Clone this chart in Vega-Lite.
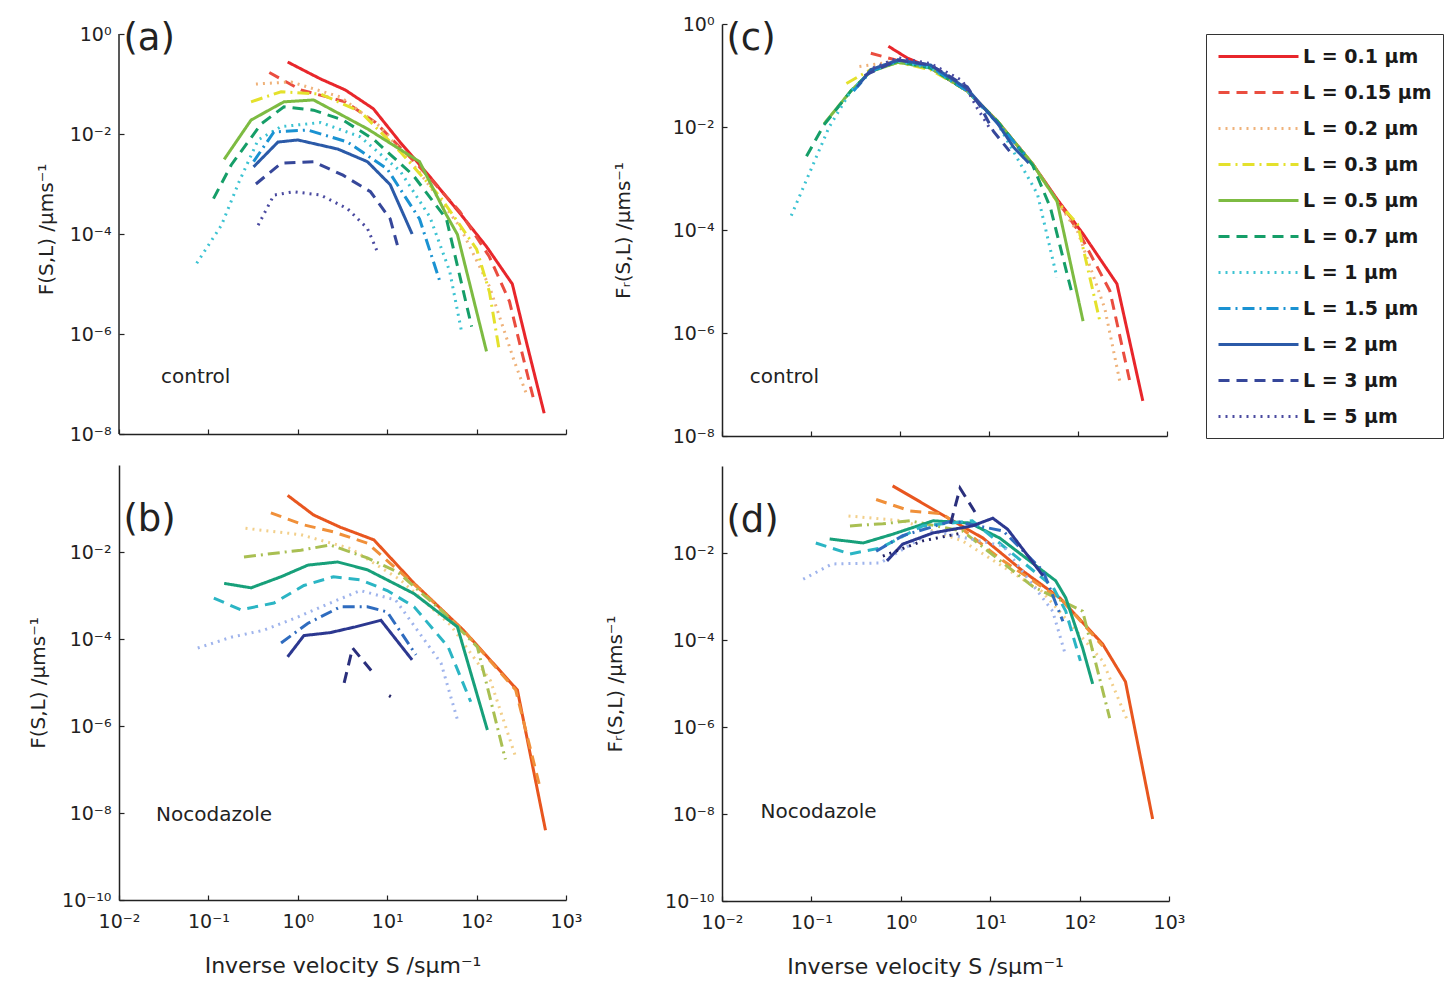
{
  "$schema": "https://vega.github.io/schema/vega-lite/v6.json",
  "background": "white",
  "padding": {"left": 28, "top": 15, "right": 0, "bottom": 0},
  "datasets": {
    "pts": [
      {"panel":"a","L":"L = 0.1 µm","S":0.77,"F":0.275},{"panel":"a","L":"L = 0.1 µm","S":1.8,"F":0.126},{"panel":"a","L":"L = 0.1 µm","S":3.4,"F":0.076},{"panel":"a","L":"L = 0.1 µm","S":7.0,"F":0.032},{"panel":"a","L":"L = 0.1 µm","S":13.9,"F":6.9e-3},{"panel":"a","L":"L = 0.1 µm","S":30,"F":1.4e-3},{"panel":"a","L":"L = 0.1 µm","S":65,"F":2.6e-4},{"panel":"a","L":"L = 0.1 µm","S":129,"F":5.6e-5},{"panel":"a","L":"L = 0.1 µm","S":251,"F":1e-5},{"panel":"a","L":"L = 0.1 µm","S":360,"F":7e-7},{"panel":"a","L":"L = 0.1 µm","S":570,"F":2.6e-8},
      {"panel":"a","L":"L = 0.15 µm","S":0.48,"F":0.17},{"panel":"a","L":"L = 0.15 µm","S":1.08,"F":0.076},{"panel":"a","L":"L = 0.15 µm","S":3.4,"F":0.044},{"panel":"a","L":"L = 0.15 µm","S":7.4,"F":0.017},{"panel":"a","L":"L = 0.15 µm","S":23,"F":2.2e-3},{"panel":"a","L":"L = 0.15 µm","S":65,"F":2.8e-4},{"panel":"a","L":"L = 0.15 µm","S":139,"F":3.5e-5},{"panel":"a","L":"L = 0.15 µm","S":233,"F":4.5e-6},{"panel":"a","L":"L = 0.15 µm","S":300,"F":7e-7},{"panel":"a","L":"L = 0.15 µm","S":440,"F":4.5e-8},
      {"panel":"a","L":"L = 0.2 µm","S":0.34,"F":0.1},{"panel":"a","L":"L = 0.2 µm","S":0.84,"F":0.11},{"panel":"a","L":"L = 0.2 µm","S":3,"F":0.055},{"panel":"a","L":"L = 0.2 µm","S":8.4,"F":0.014},{"panel":"a","L":"L = 0.2 µm","S":23,"F":1.7e-3},{"panel":"a","L":"L = 0.2 µm","S":65,"F":1.4e-4},{"panel":"a","L":"L = 0.2 µm","S":139,"F":9e-6},{"panel":"a","L":"L = 0.2 µm","S":265,"F":2.8e-7},{"panel":"a","L":"L = 0.2 µm","S":370,"F":5.6e-8},
      {"panel":"a","L":"L = 0.3 µm","S":0.30,"F":0.044},{"panel":"a","L":"L = 0.3 µm","S":0.65,"F":0.07},{"panel":"a","L":"L = 0.3 µm","S":1.8,"F":0.063},{"panel":"a","L":"L = 0.3 µm","S":5,"F":0.028},{"panel":"a","L":"L = 0.3 µm","S":14,"F":4.4e-3},{"panel":"a","L":"L = 0.3 µm","S":39,"F":5.6e-4},{"panel":"a","L":"L = 0.3 µm","S":100,"F":5e-5},{"panel":"a","L":"L = 0.3 µm","S":139,"F":7e-6},{"panel":"a","L":"L = 0.3 µm","S":180,"F":4.5e-7},
      {"panel":"a","L":"L = 0.5 µm","S":0.15,"F":3.1e-3},{"panel":"a","L":"L = 0.5 µm","S":0.30,"F":0.019},{"panel":"a","L":"L = 0.5 µm","S":0.70,"F":0.044},{"panel":"a","L":"L = 0.5 µm","S":1.5,"F":0.048},{"panel":"a","L":"L = 0.5 µm","S":6.0,"F":0.0127},{"panel":"a","L":"L = 0.5 µm","S":23,"F":2.8e-3},{"panel":"a","L":"L = 0.5 µm","S":46,"F":2.4e-4},{"panel":"a","L":"L = 0.5 µm","S":61,"F":9.8e-5},{"panel":"a","L":"L = 0.5 µm","S":129,"F":4.5e-7},
      {"panel":"a","L":"L = 0.7 µm","S":0.114,"F":5.1e-4},{"panel":"a","L":"L = 0.7 µm","S":0.18,"F":2.4e-3},{"panel":"a","L":"L = 0.7 µm","S":0.39,"F":0.016},{"panel":"a","L":"L = 0.7 µm","S":0.70,"F":0.035},{"panel":"a","L":"L = 0.7 µm","S":1.5,"F":0.030},{"panel":"a","L":"L = 0.7 µm","S":3.2,"F":0.019},{"panel":"a","L":"L = 0.7 µm","S":7.0,"F":7.9e-3},{"panel":"a","L":"L = 0.7 µm","S":19.5,"F":1.5e-3},{"panel":"a","L":"L = 0.7 µm","S":46,"F":2e-4},{"panel":"a","L":"L = 0.7 µm","S":88,"F":1.4e-6},
      {"panel":"a","L":"L = 1 µm","S":0.074,"F":2.6e-5},{"panel":"a","L":"L = 1 µm","S":0.14,"F":1.5e-4},{"panel":"a","L":"L = 1 µm","S":0.22,"F":1.1e-3},{"panel":"a","L":"L = 1 µm","S":0.36,"F":7.6e-3},{"panel":"a","L":"L = 1 µm","S":0.65,"F":0.014},{"panel":"a","L":"L = 1 µm","S":1.8,"F":0.017},{"panel":"a","L":"L = 1 µm","S":5,"F":8.8e-3},{"panel":"a","L":"L = 1 µm","S":14,"F":1.8e-3},{"panel":"a","L":"L = 1 µm","S":30,"F":2.2e-4},{"panel":"a","L":"L = 1 µm","S":50,"F":1.8e-5},{"panel":"a","L":"L = 1 µm","S":68,"F":1.1e-6},
      {"panel":"a","L":"L = 1.5 µm","S":0.32,"F":2.8e-3},{"panel":"a","L":"L = 1.5 µm","S":0.54,"F":0.011},{"panel":"a","L":"L = 1.5 µm","S":1.3,"F":0.012},{"panel":"a","L":"L = 1.5 µm","S":3.6,"F":6.9e-3},{"panel":"a","L":"L = 1.5 µm","S":10,"F":2e-3},{"panel":"a","L":"L = 1.5 µm","S":23,"F":2e-4},{"panel":"a","L":"L = 1.5 µm","S":39,"F":1.1e-5},
      {"panel":"a","L":"L = 2 µm","S":0.32,"F":2.2e-3},{"panel":"a","L":"L = 2 µm","S":0.6,"F":6.9e-3},{"panel":"a","L":"L = 2 µm","S":1.0,"F":7.6e-3},{"panel":"a","L":"L = 2 µm","S":2.8,"F":5e-3},{"panel":"a","L":"L = 2 µm","S":6,"F":2.8e-3},{"panel":"a","L":"L = 2 µm","S":10.8,"F":9.7e-4},{"panel":"a","L":"L = 2 µm","S":19,"F":1e-4},
      {"panel":"a","L":"L = 3 µm","S":0.34,"F":1e-3},{"panel":"a","L":"L = 3 µm","S":0.65,"F":2.6e-3},{"panel":"a","L":"L = 3 µm","S":1.5,"F":2.8e-3},{"panel":"a","L":"L = 3 µm","S":3.2,"F":1.5e-3},{"panel":"a","L":"L = 3 µm","S":6.5,"F":7e-4},{"panel":"a","L":"L = 3 µm","S":10.8,"F":2e-4},{"panel":"a","L":"L = 3 µm","S":13,"F":6e-5},
      {"panel":"a","L":"L = 5 µm","S":0.36,"F":1.5e-4},{"panel":"a","L":"L = 5 µm","S":0.54,"F":6e-4},{"panel":"a","L":"L = 5 µm","S":0.9,"F":7e-4},{"panel":"a","L":"L = 5 µm","S":1.8,"F":6e-4},{"panel":"a","L":"L = 5 µm","S":3.6,"F":3.2e-4},{"panel":"a","L":"L = 5 µm","S":6,"F":1.3e-4},{"panel":"a","L":"L = 5 µm","S":8,"F":3.9e-5},

      {"panel":"b","L":"L = 0.1 µm","S":0.77,"F":0.2},{"panel":"b","L":"L = 0.1 µm","S":1.5,"F":0.071},{"panel":"b","L":"L = 0.1 µm","S":3.0,"F":0.037},{"panel":"b","L":"L = 0.1 µm","S":7.1,"F":0.019},{"panel":"b","L":"L = 0.1 µm","S":20,"F":1.9e-3},{"panel":"b","L":"L = 0.1 µm","S":71,"F":1.6e-4},{"panel":"b","L":"L = 0.1 µm","S":286,"F":6.7e-6},{"panel":"b","L":"L = 0.1 µm","S":590,"F":4e-9},
      {"panel":"b","L":"L = 0.15 µm","S":0.5,"F":0.079},{"panel":"b","L":"L = 0.15 µm","S":1.17,"F":0.042},{"panel":"b","L":"L = 0.15 µm","S":2.5,"F":0.029},{"panel":"b","L":"L = 0.15 µm","S":6.0,"F":0.016},{"panel":"b","L":"L = 0.15 µm","S":24,"F":1.3e-3},{"panel":"b","L":"L = 0.15 µm","S":75,"F":1.4e-4},{"panel":"b","L":"L = 0.15 µm","S":274,"F":6.7e-6},{"panel":"b","L":"L = 0.15 µm","S":520,"F":3.4e-8},
      {"panel":"b","L":"L = 0.2 µm","S":0.26,"F":0.035},{"panel":"b","L":"L = 0.2 µm","S":1.08,"F":0.025},{"panel":"b","L":"L = 0.2 µm","S":3.9,"F":0.012},{"panel":"b","L":"L = 0.2 µm","S":14,"F":2.3e-3},{"panel":"b","L":"L = 0.2 µm","S":51,"F":2.1e-4},{"panel":"b","L":"L = 0.2 µm","S":143,"F":1.1e-5},{"panel":"b","L":"L = 0.2 µm","S":270,"F":2.1e-7},
      {"panel":"b","L":"L = 0.3 µm","S":0.25,"F":7.7e-3},{"panel":"b","L":"L = 0.3 µm","S":1.08,"F":0.011},{"panel":"b","L":"L = 0.3 µm","S":2.3,"F":0.0145},{"panel":"b","L":"L = 0.3 µm","S":6,"F":7.3e-3},{"panel":"b","L":"L = 0.3 µm","S":13,"F":3.5e-3},{"panel":"b","L":"L = 0.3 µm","S":40,"F":4.6e-4},{"panel":"b","L":"L = 0.3 µm","S":102,"F":6.6e-5},{"panel":"b","L":"L = 0.3 µm","S":210,"F":1.7e-7},
      {"panel":"b","L":"L = 0.5 µm","S":0.15,"F":1.9e-3},{"panel":"b","L":"L = 0.5 µm","S":0.30,"F":1.5e-3},{"panel":"b","L":"L = 0.5 µm","S":0.65,"F":2.7e-3},{"panel":"b","L":"L = 0.5 µm","S":1.3,"F":5e-3},{"panel":"b","L":"L = 0.5 µm","S":2.8,"F":5.9e-3},{"panel":"b","L":"L = 0.5 µm","S":6,"F":3.9e-3},{"panel":"b","L":"L = 0.5 µm","S":20,"F":1.1e-3},{"panel":"b","L":"L = 0.5 µm","S":61,"F":1.9e-4},{"panel":"b","L":"L = 0.5 µm","S":132,"F":8.1e-7},
      {"panel":"b","L":"L = 0.7 µm","S":0.115,"F":8.7e-4},{"panel":"b","L":"L = 0.7 µm","S":0.23,"F":4.7e-4},{"panel":"b","L":"L = 0.7 µm","S":0.54,"F":6.7e-4},{"panel":"b","L":"L = 0.7 µm","S":1.17,"F":1.7e-3},{"panel":"b","L":"L = 0.7 µm","S":2.5,"F":2.7e-3},{"panel":"b","L":"L = 0.7 µm","S":5,"F":2.3e-3},{"panel":"b","L":"L = 0.7 µm","S":10,"F":1.3e-3},{"panel":"b","L":"L = 0.7 µm","S":20,"F":5.5e-4},{"panel":"b","L":"L = 0.7 µm","S":48,"F":6.6e-5},{"panel":"b","L":"L = 0.7 µm","S":86,"F":3.6e-6},
      {"panel":"b","L":"L = 1 µm","S":0.076,"F":6.2e-5},{"panel":"b","L":"L = 1 µm","S":0.18,"F":1.1e-4},{"panel":"b","L":"L = 1 µm","S":0.42,"F":1.6e-4},{"panel":"b","L":"L = 1 µm","S":1,"F":3.2e-4},{"panel":"b","L":"L = 1 µm","S":2.3,"F":6.7e-4},{"panel":"b","L":"L = 1 µm","S":5,"F":1.3e-3},{"panel":"b","L":"L = 1 µm","S":12.4,"F":7.9e-4},{"panel":"b","L":"L = 1 µm","S":40,"F":2.8e-5},{"panel":"b","L":"L = 1 µm","S":61,"F":1.4e-6},
      {"panel":"b","L":"L = 1.5 µm","S":0.65,"F":8.1e-5},{"panel":"b","L":"L = 1.5 µm","S":1.3,"F":2.3e-4},{"panel":"b","L":"L = 1.5 µm","S":3.0,"F":5.5e-4},{"panel":"b","L":"L = 1.5 µm","S":6,"F":5.5e-4},{"panel":"b","L":"L = 1.5 µm","S":10,"F":4.2e-4},{"panel":"b","L":"L = 1.5 µm","S":21,"F":4.3e-5},
      {"panel":"b","L":"L = 2 µm","S":0.77,"F":3.9e-5},{"panel":"b","L":"L = 2 µm","S":1.17,"F":1.2e-4},{"panel":"b","L":"L = 2 µm","S":2.3,"F":1.4e-4},{"panel":"b","L":"L = 2 µm","S":4.4,"F":1.9e-4},{"panel":"b","L":"L = 2 µm","S":8.5,"F":2.7e-4},{"panel":"b","L":"L = 2 µm","S":19,"F":3.3e-5},
      {"panel":"b","L":"L = 3 µm","S":3.3,"F":9.8e-6},{"panel":"b","L":"L = 3 µm","S":4.1,"F":6.2e-5},{"panel":"b","L":"L = 3 µm","S":6.9,"F":1.7e-5},
      {"panel":"b","L":"L = 5 µm","S":10.5,"F":5e-6},{"panel":"b","L":"L = 5 µm","S":11.5,"F":4.5e-6},

      {"panel":"c","L":"L = 0.1 µm","S":0.74,"F":0.37},{"panel":"c","L":"L = 0.1 µm","S":1.2,"F":0.22},{"panel":"c","L":"L = 0.1 µm","S":2.2,"F":0.14},{"panel":"c","L":"L = 0.1 µm","S":5.7,"F":0.05},{"panel":"c","L":"L = 0.1 µm","S":12.4,"F":0.013},{"panel":"c","L":"L = 0.1 µm","S":31,"F":1.9e-3},{"panel":"c","L":"L = 0.1 µm","S":58,"F":4e-4},{"panel":"c","L":"L = 0.1 µm","S":114,"F":8.4e-5},{"panel":"c","L":"L = 0.1 µm","S":274,"F":9e-6},{"panel":"c","L":"L = 0.1 µm","S":535,"F":4.8e-8},
      {"panel":"c","L":"L = 0.15 µm","S":0.47,"F":0.27},{"panel":"c","L":"L = 0.15 µm","S":0.9,"F":0.2},{"panel":"c","L":"L = 0.15 µm","S":2.2,"F":0.14},{"panel":"c","L":"L = 0.15 µm","S":5.7,"F":0.05},{"panel":"c","L":"L = 0.15 µm","S":12.4,"F":0.013},{"panel":"c","L":"L = 0.15 µm","S":31,"F":1.9e-3},{"panel":"c","L":"L = 0.15 µm","S":58,"F":3.8e-4},{"panel":"c","L":"L = 0.15 µm","S":99,"F":1.0e-4},{"panel":"c","L":"L = 0.15 µm","S":228,"F":6.6e-6},{"panel":"c","L":"L = 0.15 µm","S":380,"F":1.2e-7},
      {"panel":"c","L":"L = 0.2 µm","S":0.35,"F":0.15},{"panel":"c","L":"L = 0.2 µm","S":0.95,"F":0.19},{"panel":"c","L":"L = 0.2 µm","S":2.2,"F":0.14},{"panel":"c","L":"L = 0.2 µm","S":5.7,"F":0.05},{"panel":"c","L":"L = 0.2 µm","S":12.4,"F":0.013},{"panel":"c","L":"L = 0.2 µm","S":31,"F":1.9e-3},{"panel":"c","L":"L = 0.2 µm","S":58,"F":3.6e-4},{"panel":"c","L":"L = 0.2 µm","S":100,"F":9e-5},{"panel":"c","L":"L = 0.2 µm","S":200,"F":3e-6},{"panel":"c","L":"L = 0.2 µm","S":300,"F":1e-7},
      {"panel":"c","L":"L = 0.3 µm","S":0.25,"F":0.07},{"panel":"c","L":"L = 0.3 µm","S":0.47,"F":0.13},{"panel":"c","L":"L = 0.3 µm","S":0.95,"F":0.18},{"panel":"c","L":"L = 0.3 µm","S":2.2,"F":0.13},{"panel":"c","L":"L = 0.3 µm","S":5.7,"F":0.05},{"panel":"c","L":"L = 0.3 µm","S":12.4,"F":0.013},{"panel":"c","L":"L = 0.3 µm","S":31,"F":1.9e-3},{"panel":"c","L":"L = 0.3 µm","S":58,"F":3.6e-4},{"panel":"c","L":"L = 0.3 µm","S":99,"F":1.3e-4},{"panel":"c","L":"L = 0.3 µm","S":176,"F":1.7e-6},
      {"panel":"c","L":"L = 0.5 µm","S":0.14,"F":0.0115},{"panel":"c","L":"L = 0.5 µm","S":0.28,"F":0.05},{"panel":"c","L":"L = 0.5 µm","S":0.47,"F":0.12},{"panel":"c","L":"L = 0.5 µm","S":0.95,"F":0.18},{"panel":"c","L":"L = 0.5 µm","S":2.2,"F":0.14},{"panel":"c","L":"L = 0.5 µm","S":5.7,"F":0.05},{"panel":"c","L":"L = 0.5 µm","S":12.4,"F":0.013},{"panel":"c","L":"L = 0.5 µm","S":31,"F":1.9e-3},{"panel":"c","L":"L = 0.5 µm","S":58,"F":3.7e-4},{"panel":"c","L":"L = 0.5 µm","S":114,"F":1.7e-6},
      {"panel":"c","L":"L = 0.7 µm","S":0.089,"F":2.7e-3},{"panel":"c","L":"L = 0.7 µm","S":0.14,"F":0.011},{"panel":"c","L":"L = 0.7 µm","S":0.28,"F":0.05},{"panel":"c","L":"L = 0.7 µm","S":0.47,"F":0.12},{"panel":"c","L":"L = 0.7 µm","S":0.95,"F":0.19},{"panel":"c","L":"L = 0.7 µm","S":2.2,"F":0.14},{"panel":"c","L":"L = 0.7 µm","S":5.7,"F":0.05},{"panel":"c","L":"L = 0.7 µm","S":12.4,"F":0.013},{"panel":"c","L":"L = 0.7 µm","S":31,"F":1.8e-3},{"panel":"c","L":"L = 0.7 µm","S":49,"F":2.7e-4},{"panel":"c","L":"L = 0.7 µm","S":86,"F":5.7e-6},
      {"panel":"c","L":"L = 1 µm","S":0.06,"F":1.9e-4},{"panel":"c","L":"L = 1 µm","S":0.1,"F":1.5e-3},{"panel":"c","L":"L = 1 µm","S":0.16,"F":0.01},{"panel":"c","L":"L = 1 µm","S":0.28,"F":0.05},{"panel":"c","L":"L = 1 µm","S":0.47,"F":0.12},{"panel":"c","L":"L = 1 µm","S":0.95,"F":0.19},{"panel":"c","L":"L = 1 µm","S":2.2,"F":0.14},{"panel":"c","L":"L = 1 µm","S":5.7,"F":0.05},{"panel":"c","L":"L = 1 µm","S":12.4,"F":0.012},{"panel":"c","L":"L = 1 µm","S":35,"F":5e-4},{"panel":"c","L":"L = 1 µm","S":58,"F":1.2e-5},
      {"panel":"c","L":"L = 1.5 µm","S":0.3,"F":0.05},{"panel":"c","L":"L = 1.5 µm","S":0.47,"F":0.12},{"panel":"c","L":"L = 1.5 µm","S":0.95,"F":0.2},{"panel":"c","L":"L = 1.5 µm","S":2.2,"F":0.15},{"panel":"c","L":"L = 1.5 µm","S":5.7,"F":0.05},{"panel":"c","L":"L = 1.5 µm","S":12.4,"F":0.012},{"panel":"c","L":"L = 1.5 µm","S":25,"F":3e-3},
      {"panel":"c","L":"L = 2 µm","S":0.33,"F":0.06},{"panel":"c","L":"L = 2 µm","S":0.47,"F":0.13},{"panel":"c","L":"L = 2 µm","S":0.95,"F":0.2},{"panel":"c","L":"L = 2 µm","S":2.2,"F":0.16},{"panel":"c","L":"L = 2 µm","S":5.7,"F":0.055},{"panel":"c","L":"L = 2 µm","S":12.4,"F":0.012},{"panel":"c","L":"L = 2 µm","S":19,"F":4e-3},{"panel":"c","L":"L = 2 µm","S":28,"F":2e-3},
      {"panel":"c","L":"L = 3 µm","S":0.4,"F":0.1},{"panel":"c","L":"L = 3 µm","S":0.95,"F":0.2},{"panel":"c","L":"L = 3 µm","S":2.2,"F":0.16},{"panel":"c","L":"L = 3 µm","S":5.7,"F":0.06},{"panel":"c","L":"L = 3 µm","S":8,"F":0.025},{"panel":"c","L":"L = 3 µm","S":11.2,"F":8.3e-3},{"panel":"c","L":"L = 3 µm","S":17,"F":3.4e-3},
      {"panel":"c","L":"L = 5 µm","S":0.5,"F":0.14},{"panel":"c","L":"L = 5 µm","S":0.95,"F":0.22},{"panel":"c","L":"L = 5 µm","S":2.2,"F":0.17},{"panel":"c","L":"L = 5 µm","S":5,"F":0.08},{"panel":"c","L":"L = 5 µm","S":7.4,"F":0.023},{"panel":"c","L":"L = 5 µm","S":10,"F":0.01},

      {"panel":"d","L":"L = 0.1 µm","S":0.81,"F":0.35},{"panel":"d","L":"L = 0.1 µm","S":2.7,"F":0.083},{"panel":"d","L":"L = 0.1 µm","S":8.3,"F":0.022},{"panel":"d","L":"L = 0.1 µm","S":23,"F":3.9e-3},{"panel":"d","L":"L = 0.1 µm","S":60,"F":9.3e-4},{"panel":"d","L":"L = 0.1 µm","S":181,"F":8.1e-5},{"panel":"d","L":"L = 0.1 µm","S":326,"F":1.1e-5},{"panel":"d","L":"L = 0.1 µm","S":656,"F":7.7e-9},
      {"panel":"d","L":"L = 0.15 µm","S":0.53,"F":0.17},{"panel":"d","L":"L = 0.15 µm","S":1.26,"F":0.093},{"panel":"d","L":"L = 0.15 µm","S":2.95,"F":0.079},{"panel":"d","L":"L = 0.15 µm","S":14,"F":6.6e-3},{"panel":"d","L":"L = 0.15 µm","S":65,"F":7.9e-4},{"panel":"d","L":"L = 0.15 µm","S":181,"F":7.3e-5},
      {"panel":"d","L":"L = 0.2 µm","S":0.26,"F":0.071},{"panel":"d","L":"L = 0.2 µm","S":1.05,"F":0.055},{"panel":"d","L":"L = 0.2 µm","S":4.9,"F":0.019},{"panel":"d","L":"L = 0.2 µm","S":38,"F":1.3e-3},{"panel":"d","L":"L = 0.2 µm","S":181,"F":3.3e-5},{"panel":"d","L":"L = 0.2 µm","S":343,"F":1.4e-6},
      {"panel":"d","L":"L = 0.3 µm","S":0.27,"F":0.042},{"panel":"d","L":"L = 0.3 µm","S":0.63,"F":0.047},{"panel":"d","L":"L = 0.3 µm","S":1.26,"F":0.055},{"panel":"d","L":"L = 0.3 µm","S":4.9,"F":0.032},{"panel":"d","L":"L = 0.3 µm","S":30,"F":1.7e-3},{"panel":"d","L":"L = 0.3 µm","S":108,"F":4.6e-4},{"panel":"d","L":"L = 0.3 µm","S":217,"F":1.6e-6},
      {"panel":"d","L":"L = 0.5 µm","S":0.16,"F":0.021},{"panel":"d","L":"L = 0.5 µm","S":0.38,"F":0.017},{"panel":"d","L":"L = 0.5 µm","S":0.81,"F":0.027},{"panel":"d","L":"L = 0.5 µm","S":2.3,"F":0.055},{"panel":"d","L":"L = 0.5 µm","S":5.9,"F":0.049},{"panel":"d","L":"L = 0.5 µm","S":12.8,"F":0.022},{"panel":"d","L":"L = 0.5 µm","S":54,"F":2.3e-3},{"panel":"d","L":"L = 0.5 µm","S":70,"F":9.3e-4},{"panel":"d","L":"L = 0.5 µm","S":108,"F":6.6e-5},{"panel":"d","L":"L = 0.5 µm","S":140,"F":9.8e-6},
      {"panel":"d","L":"L = 0.7 µm","S":0.112,"F":0.017},{"panel":"d","L":"L = 0.7 µm","S":0.27,"F":9.5e-3},{"panel":"d","L":"L = 0.7 µm","S":0.59,"F":0.013},{"panel":"d","L":"L = 0.7 µm","S":1.76,"F":0.042},{"panel":"d","L":"L = 0.7 µm","S":6.3,"F":0.055},{"panel":"d","L":"L = 0.7 µm","S":50,"F":1.7e-3},{"panel":"d","L":"L = 0.7 µm","S":70,"F":4.6e-4},{"panel":"d","L":"L = 0.7 µm","S":102,"F":3.3e-5},
      {"panel":"d","L":"L = 1 µm","S":0.081,"F":2.5e-3},{"panel":"d","L":"L = 1 µm","S":0.17,"F":5.6e-3},{"panel":"d","L":"L = 1 µm","S":0.59,"F":5.9e-3},{"panel":"d","L":"L = 1 µm","S":2.3,"F":0.032},{"panel":"d","L":"L = 1 µm","S":14,"F":0.0145},{"panel":"d","L":"L = 1 µm","S":50,"F":4.6e-4},{"panel":"d","L":"L = 1 µm","S":70,"F":4.3e-5},
      {"panel":"d","L":"L = 1.5 µm","S":0.53,"F":0.011},{"panel":"d","L":"L = 1.5 µm","S":1.05,"F":0.025},{"panel":"d","L":"L = 1.5 µm","S":3.8,"F":0.055},{"panel":"d","L":"L = 1.5 µm","S":14,"F":0.032},{"panel":"d","L":"L = 1.5 µm","S":39,"F":3.9e-3},{"panel":"d","L":"L = 1.5 µm","S":65,"F":2.7e-4},
      {"panel":"d","L":"L = 2 µm","S":0.7,"F":6.6e-3},{"panel":"d","L":"L = 2 µm","S":1.05,"F":0.016},{"panel":"d","L":"L = 2 µm","S":2.3,"F":0.029},{"panel":"d","L":"L = 2 µm","S":6.3,"F":0.042},{"panel":"d","L":"L = 2 µm","S":10.7,"F":0.063},{"panel":"d","L":"L = 2 µm","S":15.7,"F":0.035},{"panel":"d","L":"L = 2 µm","S":39,"F":3e-3},
      {"panel":"d","L":"L = 3 µm","S":3.6,"F":0.047},{"panel":"d","L":"L = 3 µm","S":4.6,"F":0.31},{"panel":"d","L":"L = 3 µm","S":7.2,"F":0.071},
      {"panel":"d","L":"L = 5 µm","S":0.63,"F":8.5e-3},{"panel":"d","L":"L = 5 µm","S":1.76,"F":0.019},{"panel":"d","L":"L = 5 µm","S":4.9,"F":0.029}
    ],
    "labels": [
      {"panel":"a","k":"letter","S":0.0112,"F":0.78,"t":"(a)"},
      {"panel":"b","k":"letter","S":0.0112,"F":0.055,"t":"(b)"},
      {"panel":"c","k":"letter","S":0.0112,"F":0.51,"t":"(c)"},
      {"panel":"d","k":"letter","S":0.0112,"F":0.055,"t":"(d)"},
      {"panel":"a","k":"note","S":0.0295,"F":1.4e-7,"t":"control"},
      {"panel":"c","k":"note","S":0.0205,"F":1.4e-7,"t":"control"},
      {"panel":"b","k":"note","S":0.026,"F":9e-9,"t":"Nocodazole"},
      {"panel":"d","k":"note","S":0.027,"F":1.1e-8,"t":"Nocodazole"}
    ],
    "yaxisA": [{"S":0.01,"F":1e-8,"F2":1}]
  },
  "config": {
    "view": {"stroke": null},
    "font": "DejaVu Sans",
    "axis": {
      "grid": false,
      "labelFont": "DejaVu Sans",
      "labelFontSize": 19,
      "labelColor": "#222",
      "labelFlush": false,
      "titleFont": "DejaVu Sans",
      "titleFontWeight": "normal",
      "titleColor": "#222",
      "domainColor": "#222",
      "domainWidth": 1.5,
      "tickColor": "#222",
      "tickSize": -5,
      "tickWidth": 1.2
    },
    "legend": {
      "labelFont": "DejaVu Sans",
      "labelFontSize": 19,
      "labelFontWeight": "bold",
      "labelColor": "#1a1a1a",
      "symbolType": "M-1,0L7,0",
      "symbolSize": 400,
      "symbolStrokeWidth": 3,
      "rowPadding": 14,
      "labelOffset": 63,
      "strokeColor": "#333",
      "padding": 11
    },
    "line": {"strokeWidth": 3, "clip": true}
  },
  "hconcat": [
    {
      "spacing": 21,
      "vconcat": [
        {
          "width": 447, "height": 410,
          "layer": [
            {
              "data": {"name": "pts"},
              "transform": [{"filter": "datum.panel === 'a'"}],
              "mark": {"type": "line"},
              "encoding": {
                "x": {"field": "S", "type": "quantitative", "scale": {"type": "log", "domain": [0.01, 1000], "nice": false},
                      "axis": {"values": [0.01, 0.1, 1, 10, 100, 1000], "labels": false, "title": null}},
                "y": {"field": "F", "type": "quantitative", "scale": {"type": "log", "domain": [1e-8, 1.5849], "nice": false},
                      "axis": {"values": [1, 0.01, 0.0001, 1e-6, 1e-8], "domain": false, "title": "F(S,L) /µms⁻¹", "titleFontSize": 20, "titlePadding": 13, "labelPadding": 13,
                               "labelExpr": "'10' + (datum.value < 1 ? '⁻' : '') + ['⁰','¹','²','³','⁴','⁵','⁶','⁷','⁸','⁹','¹⁰'][abs(round(log(datum.value)/LN10))]"}},
                "stroke": {"field": "L", "type": "nominal", "legend": {"title": null, "orient": "none", "legendX": 1087, "legendY": 10},
                           "scale": {"domain": ["L = 0.1 µm","L = 0.15 µm","L = 0.2 µm","L = 0.3 µm","L = 0.5 µm","L = 0.7 µm","L = 1 µm","L = 1.5 µm","L = 2 µm","L = 3 µm","L = 5 µm"],
                                     "range": ["#e8262b","#ea4d3f","#efb27a","#e4e12c","#7dbb42","#159e68","#3cc3d2","#1a92d2","#2b5aa8","#36479a","#4a4aa0"]}},
                "strokeDash": {"field": "L", "type": "nominal", "legend": {"title": null, "orient": "none", "legendX": 1087, "legendY": 10},
                               "scale": {"domain": ["L = 0.1 µm","L = 0.15 µm","L = 0.2 µm","L = 0.3 µm","L = 0.5 µm","L = 0.7 µm","L = 1 µm","L = 1.5 µm","L = 2 µm","L = 3 µm","L = 5 µm"],
                                         "range": [[1,0],[11,7],[2,5],[12,5,2,5],[1,0],[11,7],[2,5],[12,5,2,5],[1,0],[11,7],[2,5]]}}
              }
            },
            {
              "data": {"name": "yaxisA"},
              "mark": {"type": "rule", "color": "#222", "strokeWidth": 1.5},
              "encoding": {"x": {"field": "S", "type": "quantitative"}, "y": {"field": "F", "type": "quantitative"}, "y2": {"field": "F2"}}
            },
            {
              "data": {"name": "labels"},
              "transform": [{"filter": "datum.panel === 'a' && datum.k === 'letter'"}],
              "mark": {"type": "text", "align": "left", "baseline": "middle", "fontSize": 37, "font": "DejaVu Sans", "color": "#222"},
              "encoding": {"x": {"field": "S", "type": "quantitative"}, "y": {"field": "F", "type": "quantitative"}, "text": {"field": "t"}}
            },
            {
              "data": {"name": "labels"},
              "transform": [{"filter": "datum.panel === 'a' && datum.k === 'note'"}],
              "mark": {"type": "text", "align": "left", "baseline": "middle", "fontSize": 20, "font": "DejaVu Sans", "color": "#222"},
              "encoding": {"x": {"field": "S", "type": "quantitative"}, "y": {"field": "F", "type": "quantitative"}, "text": {"field": "t"}}
            }
          ]
        },
        {
          "width": 447, "height": 435,
          "layer": [
            {
              "data": {"name": "pts"},
              "transform": [{"filter": "datum.panel === 'b'"}],
              "mark": {"type": "line"},
              "encoding": {
                "x": {"field": "S", "type": "quantitative", "scale": {"type": "log", "domain": [0.01, 1000], "nice": false},
                      "axis": {"values": [0.01, 0.1, 1, 10, 100, 1000], "title": "Inverse velocity S  /sµm⁻¹", "titleFontSize": 22, "titlePadding": 24, "labelPadding": 17,
                               "labelExpr": "'10' + (datum.value < 1 ? '⁻' : '') + ['⁰','¹','²','³','⁴','⁵','⁶','⁷','⁸','⁹','¹⁰'][abs(round(log(datum.value)/LN10))]"}},
                "y": {"field": "F", "type": "quantitative", "scale": {"type": "log", "domain": [1e-10, 1], "nice": false},
                      "axis": {"values": [0.01, 0.0001, 1e-6, 1e-8, 1e-10], "title": "F(S,L) /µms⁻¹", "titleFontSize": 20, "titlePadding": 13, "labelPadding": 13,
                               "labelExpr": "'10' + (datum.value < 1 ? '⁻' : '') + ['⁰','¹','²','³','⁴','⁵','⁶','⁷','⁸','⁹','¹⁰'][abs(round(log(datum.value)/LN10))]"}},
                "color": {"field": "L", "type": "nominal", "legend": null,
                          "scale": {"domain": ["L = 0.1 µm","L = 0.15 µm","L = 0.2 µm","L = 0.3 µm","L = 0.5 µm","L = 0.7 µm","L = 1 µm","L = 1.5 µm","L = 2 µm","L = 3 µm","L = 5 µm"],
                                    "range": ["#e8561f","#f0903a","#f2cf8a","#a9bf52","#17a07a","#2bb5c4","#9fb4ec","#2f6cbf","#2c3890","#2a2f7c","#222266"]}},
                "strokeDash": {"field": "L", "type": "nominal", "legend": {"title": null, "orient": "none", "legendX": 1087, "legendY": 10},
                               "scale": {"domain": ["L = 0.1 µm","L = 0.15 µm","L = 0.2 µm","L = 0.3 µm","L = 0.5 µm","L = 0.7 µm","L = 1 µm","L = 1.5 µm","L = 2 µm","L = 3 µm","L = 5 µm"],
                                         "range": [[1,0],[11,7],[2,5],[12,5,2,5],[1,0],[11,7],[2,5],[12,5,2,5],[1,0],[11,7],[2,5]]}}
              }
            },
            {
              "data": {"name": "labels"},
              "transform": [{"filter": "datum.panel === 'b' && datum.k === 'letter'"}],
              "mark": {"type": "text", "align": "left", "baseline": "middle", "fontSize": 37, "font": "DejaVu Sans", "color": "#222"},
              "encoding": {"x": {"field": "S", "type": "quantitative"}, "y": {"field": "F", "type": "quantitative"}, "text": {"field": "t"}}
            },
            {
              "data": {"name": "labels"},
              "transform": [{"filter": "datum.panel === 'b' && datum.k === 'note'"}],
              "mark": {"type": "text", "align": "left", "baseline": "middle", "fontSize": 20, "font": "DejaVu Sans", "color": "#222"},
              "encoding": {"x": {"field": "S", "type": "quantitative"}, "y": {"field": "F", "type": "quantitative"}, "text": {"field": "t"}}
            }
          ]
        }
      ]
    },
    {
      "spacing": 20,
      "vconcat": [
        {
          "width": 445, "height": 412,
          "layer": [
            {
              "data": {"name": "pts"},
              "transform": [{"filter": "datum.panel === 'c'"}],
              "mark": {"type": "line"},
              "encoding": {
                "x": {"field": "S", "type": "quantitative", "scale": {"type": "log", "domain": [0.01, 1000], "nice": false},
                      "axis": {"values": [0.01, 0.1, 1, 10, 100, 1000], "labels": false, "title": null}},
                "y": {"field": "F", "type": "quantitative", "scale": {"type": "log", "domain": [1e-8, 1], "nice": false},
                      "axis": {"values": [1, 0.01, 0.0001, 1e-6, 1e-8], "title": "Fᵣ(S,L) /µms⁻¹", "titleFontSize": 20, "titlePadding": 39, "labelPadding": 13,
                               "labelExpr": "'10' + (datum.value < 1 ? '⁻' : '') + ['⁰','¹','²','³','⁴','⁵','⁶','⁷','⁸','⁹','¹⁰'][abs(round(log(datum.value)/LN10))]"}},
                "stroke": {"field": "L", "type": "nominal", "legend": {"title": null, "orient": "none", "legendX": 1087, "legendY": 10},
                           "scale": {"domain": ["L = 0.1 µm","L = 0.15 µm","L = 0.2 µm","L = 0.3 µm","L = 0.5 µm","L = 0.7 µm","L = 1 µm","L = 1.5 µm","L = 2 µm","L = 3 µm","L = 5 µm"],
                                     "range": ["#e8262b","#ea4d3f","#efb27a","#e4e12c","#7dbb42","#159e68","#3cc3d2","#1a92d2","#2b5aa8","#36479a","#4a4aa0"]}},
                "strokeDash": {"field": "L", "type": "nominal", "legend": {"title": null, "orient": "none", "legendX": 1087, "legendY": 10},
                               "scale": {"domain": ["L = 0.1 µm","L = 0.15 µm","L = 0.2 µm","L = 0.3 µm","L = 0.5 µm","L = 0.7 µm","L = 1 µm","L = 1.5 µm","L = 2 µm","L = 3 µm","L = 5 µm"],
                                         "range": [[1,0],[11,7],[2,5],[12,5,2,5],[1,0],[11,7],[2,5],[12,5,2,5],[1,0],[11,7],[2,5]]}}
              }
            },
            {
              "data": {"name": "labels"},
              "transform": [{"filter": "datum.panel === 'c' && datum.k === 'letter'"}],
              "mark": {"type": "text", "align": "left", "baseline": "middle", "fontSize": 37, "font": "DejaVu Sans", "color": "#222"},
              "encoding": {"x": {"field": "S", "type": "quantitative"}, "y": {"field": "F", "type": "quantitative"}, "text": {"field": "t"}}
            },
            {
              "data": {"name": "labels"},
              "transform": [{"filter": "datum.panel === 'c' && datum.k === 'note'"}],
              "mark": {"type": "text", "align": "left", "baseline": "middle", "fontSize": 20, "font": "DejaVu Sans", "color": "#222"},
              "encoding": {"x": {"field": "S", "type": "quantitative"}, "y": {"field": "F", "type": "quantitative"}, "text": {"field": "t"}}
            }
          ]
        },
        {
          "width": 447, "height": 435,
          "layer": [
            {
              "data": {"name": "pts"},
              "transform": [{"filter": "datum.panel === 'd'"}],
              "mark": {"type": "line"},
              "encoding": {
                "x": {"field": "S", "type": "quantitative", "scale": {"type": "log", "domain": [0.01, 1000], "nice": false},
                      "axis": {"values": [0.01, 0.1, 1, 10, 100, 1000], "title": "Inverse velocity S  /sµm⁻¹", "titleFontSize": 22, "titlePadding": 24, "labelPadding": 17, "titleX": 203,
                               "labelExpr": "'10' + (datum.value < 1 ? '⁻' : '') + ['⁰','¹','²','³','⁴','⁵','⁶','⁷','⁸','⁹','¹⁰'][abs(round(log(datum.value)/LN10))]"}},
                "y": {"field": "F", "type": "quantitative", "scale": {"type": "log", "domain": [1e-10, 1], "nice": false},
                      "axis": {"values": [0.01, 0.0001, 1e-6, 1e-8, 1e-10], "title": "Fᵣ(S,L) /µms⁻¹", "titleFontSize": 20, "titlePadding": 39, "labelPadding": 13,
                               "labelExpr": "'10' + (datum.value < 1 ? '⁻' : '') + ['⁰','¹','²','³','⁴','⁵','⁶','⁷','⁸','⁹','¹⁰'][abs(round(log(datum.value)/LN10))]"}},
                "color": {"field": "L", "type": "nominal", "legend": null,
                          "scale": {"domain": ["L = 0.1 µm","L = 0.15 µm","L = 0.2 µm","L = 0.3 µm","L = 0.5 µm","L = 0.7 µm","L = 1 µm","L = 1.5 µm","L = 2 µm","L = 3 µm","L = 5 µm"],
                                    "range": ["#e8561f","#f0903a","#f2cf8a","#a9bf52","#17a07a","#2bb5c4","#9fb4ec","#2f6cbf","#2c3890","#2a2f7c","#222266"]}},
                "strokeDash": {"field": "L", "type": "nominal", "legend": {"title": null, "orient": "none", "legendX": 1087, "legendY": 10},
                               "scale": {"domain": ["L = 0.1 µm","L = 0.15 µm","L = 0.2 µm","L = 0.3 µm","L = 0.5 µm","L = 0.7 µm","L = 1 µm","L = 1.5 µm","L = 2 µm","L = 3 µm","L = 5 µm"],
                                         "range": [[1,0],[11,7],[2,5],[12,5,2,5],[1,0],[11,7],[2,5],[12,5,2,5],[1,0],[11,7],[2,5]]}}
              }
            },
            {
              "data": {"name": "labels"},
              "transform": [{"filter": "datum.panel === 'd' && datum.k === 'letter'"}],
              "mark": {"type": "text", "align": "left", "baseline": "middle", "fontSize": 37, "font": "DejaVu Sans", "color": "#222"},
              "encoding": {"x": {"field": "S", "type": "quantitative"}, "y": {"field": "F", "type": "quantitative"}, "text": {"field": "t"}}
            },
            {
              "data": {"name": "labels"},
              "transform": [{"filter": "datum.panel === 'd' && datum.k === 'note'"}],
              "mark": {"type": "text", "align": "left", "baseline": "middle", "fontSize": 20, "font": "DejaVu Sans", "color": "#222"},
              "encoding": {"x": {"field": "S", "type": "quantitative"}, "y": {"field": "F", "type": "quantitative"}, "text": {"field": "t"}}
            }
          ]
        }
      ]
    }
  ],
  "spacing": 23
}
